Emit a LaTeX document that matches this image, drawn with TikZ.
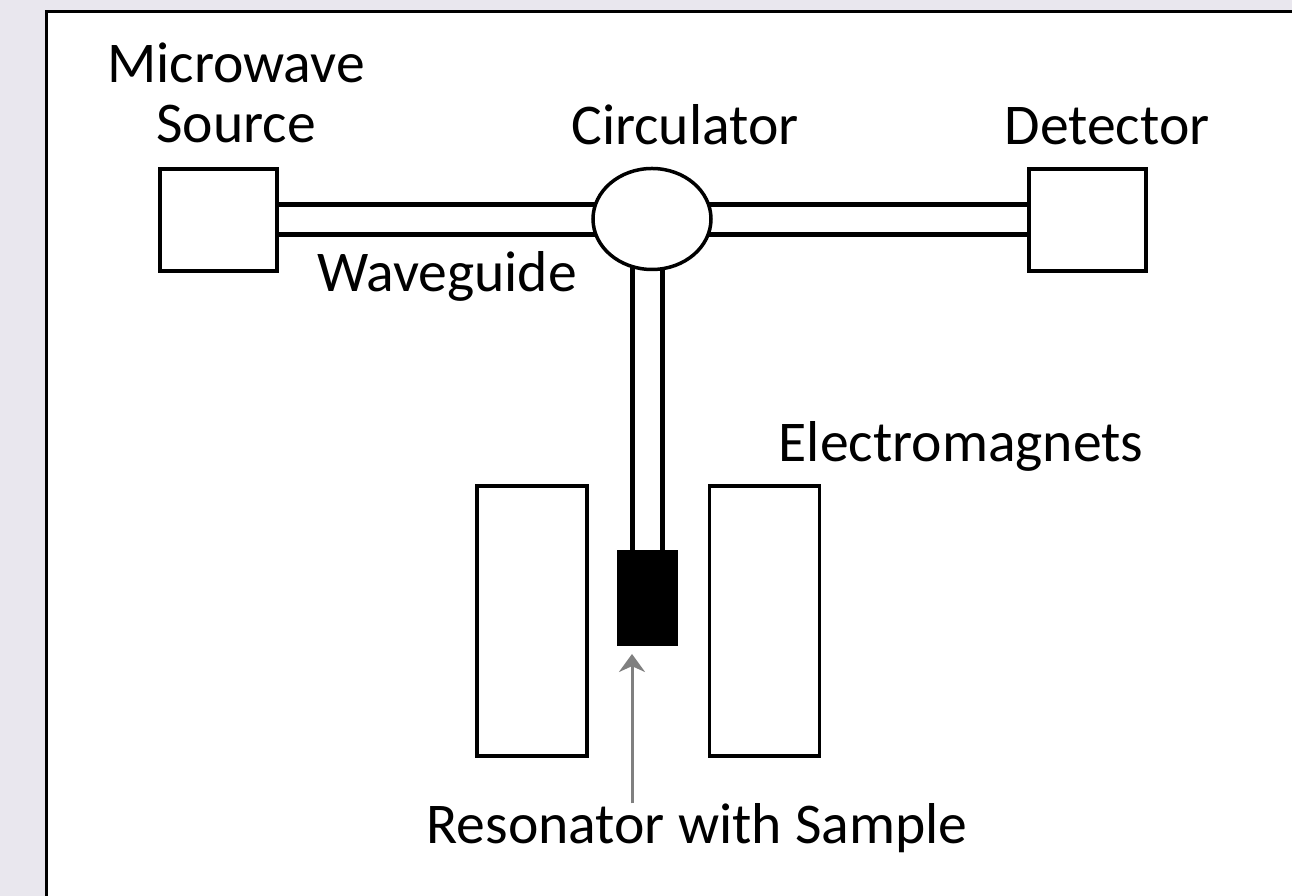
\documentclass[tikz,border=0pt]{standalone}
\usepackage{fontspec}
\setmainfont{Carlito}
\usetikzlibrary{arrows.meta,positioning,shapes.geometric,backgrounds}
\definecolor{panelgray}{RGB}{233,231,238}
\definecolor{pointergray}{RGB}{128,128,128}

\begin{document}
\begin{tikzpicture}[
  unit/.style={draw,line width=0.4mm,fill=white,inner sep=0pt,outer sep=0pt,
               minimum width=11.7mm,minimum height=10.2mm},
  magnet/.style={draw,line width=0.35mm,fill=white,inner sep=0pt,
                 minimum width=11mm,minimum height=27mm},
  ring/.style={ellipse,draw,line width=0.35mm,fill=white,inner sep=0pt,
               minimum width=11.8mm,minimum height=10.1mm},
  cavity/.style={draw,fill=black,inner sep=0pt,
                 minimum width=6mm,minimum height=9.4mm},
  lbl/.style={inner sep=0pt,anchor=base,align=center,
              font=\fontsize{16.4}{17.1}\selectfont},
  guide/.style={line width=0.5mm,double=white,double distance=2.5mm},
  pointer/.style={-{Stealth[length=1.8mm,width=2.6mm]},line width=0.3mm,
                  draw=pointergray}
]
\useasboundingbox (0,0) rectangle (12.92,-8.96);
\begin{scope}[on background layer]
  \fill[panelgray] (-0.1,0.1) rectangle (13.1,-9.1);
  \fill[white] (0.46,-0.12) rectangle (13.1,-9.1);
  \draw[line width=0.3mm] (0.46,-9.1) -- (0.46,-0.12) -- (13.1,-0.12);
\end{scope}

% bench parts
\node[unit] (source) at (2.185,-2.20) {};
\node[unit] (detector) at (10.87,-2.20) {};
\node[ring] (circ) at (6.52,-2.19) {};
\node[magnet] (magL) at (5.32,-6.21) {};
\node[magnet] (magR) at (7.645,-6.21) {};
\node[cavity] (res) at (6.475,-5.98) {};

% waveguides
\begin{scope}[on background layer]
  \draw[guide] (source.center) -- (source.center -| circ.center);
  \draw[guide] (detector.center -| circ.center) -- (detector.center);
  \draw[guide] (res.center |- circ.center) -- (res.center);
\end{scope}

% labels
\node[lbl] (srclabel) at (2.36,-1.43) {Microwave\\Source};
\node[lbl] (circlabel) at (6.85,-1.45) {Circulator};
\node[lbl] (detlabel) at (11.07,-1.45) {Detector};
\node[lbl] (guidelabel) at (4.47,-2.92) {Waveguide};
\node[lbl] (magnetlabel) at (9.61,-4.62) {Electromagnets};
\node[lbl] (reslabel) at (6.97,-8.44) {Resonator with Sample};

\coordinate (tip) at (6.32,-6.54);
\draw[pointer] (reslabel.north -| tip) -- (tip);
\end{tikzpicture}
\end{document}
